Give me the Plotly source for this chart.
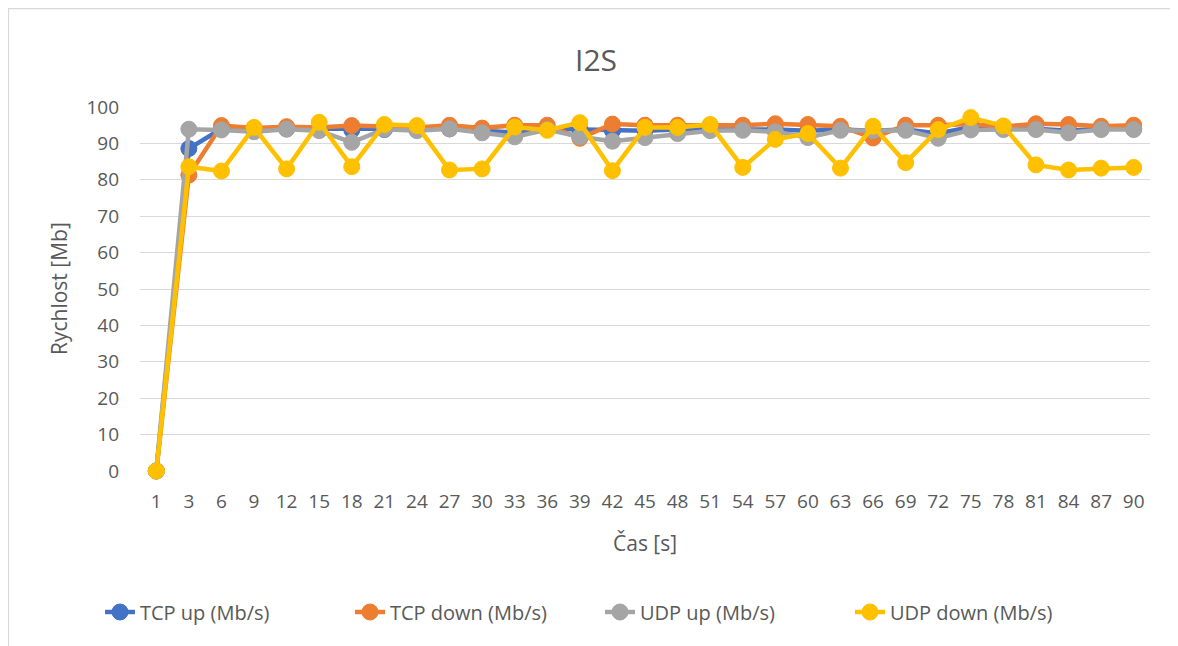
import plotly.graph_objects as go

# time categories (s)
cas = [1, 3, 6, 9, 12, 15, 18, 21, 24, 27, 30, 33, 36, 39, 42, 45,
       48, 51, 54, 57, 60, 63, 66, 69, 72, 75, 78, 81, 84, 87, 90]
cas_labels = [str(c) for c in cas]

tcp_up = [0, 88.6, 94.0, 93.8, 94.0, 94.0, 93.7, 93.8, 94.0, 94.0, 93.5,
          93.0, 94.0, 93.8, 93.5, 93.5, 93.8, 93.8, 94.0, 93.8, 93.5, 93.8,
          93.5, 93.8, 92.7, 94.5, 94.0, 94.0, 93.5, 94.0, 94.0]
tcp_down = [0, 81.3, 94.9, 94.2, 94.6, 94.4, 94.9, 94.6, 94.4, 95.0, 94.2,
            95.0, 95.0, 91.4, 95.3, 95.0, 95.0, 95.0, 95.0, 95.4, 95.2, 94.7,
            91.5, 95.0, 95.0, 95.3, 94.6, 95.4, 95.2, 94.7, 95.0]
udp_up = [0, 93.9, 93.7, 93.2, 93.9, 93.5, 90.3, 93.9, 93.5, 94.0, 92.9,
          91.8, 93.8, 91.8, 90.6, 91.6, 92.7, 93.5, 93.6, 93.2, 91.6, 93.6,
          93.5, 93.6, 91.4, 93.7, 93.8, 93.8, 92.9, 93.8, 93.8]
udp_down = [0, 83.6, 82.4, 94.4, 83.0, 95.8, 83.6, 95.2, 94.9, 82.7, 83.0,
            94.5, 93.6, 95.7, 82.5, 94.4, 94.4, 95.2, 83.4, 91.1, 92.7, 83.2,
            94.7, 84.7, 93.8, 97.1, 94.8, 84.1, 82.7, 83.2, 83.4]

series = [
    ("TCP up (Mb/s)", tcp_up, "#4472C4"),
    ("TCP down (Mb/s)", tcp_down, "#ED7D31"),
    ("UDP up (Mb/s)", udp_up, "#A5A5A5"),
    ("UDP down (Mb/s)", udp_down, "#FFC000"),
]

FONT = "Open Sans"
TEXT = "#595959"
GRID = "#D9D9D9"

# page body has an 8px margin, so the figure is sized to fit the window
W, H = 1170, 638
L, R, T, B = 132, 28, 99, 175
PW, PH = W - L - R, H - T - B

fig = go.Figure()
for name, vals, color in series:
    fig.add_trace(go.Scatter(
        x=cas_labels, y=vals, name=name, mode="lines+markers",
        line=dict(color=color, width=4.5),
        marker=dict(color=color, size=16, line=dict(color=color, width=1)),
        cliponaxis=False,
    ))

fig.update_layout(
    width=W, height=H,
    margin=dict(l=L, r=R, t=T, b=B),
    paper_bgcolor="white", plot_bgcolor="white",
    font=dict(family=FONT, color=TEXT, size=19),
    title=dict(text="I2S", x=588 / W, y=1 - 52 / H, xref="container",
               yref="container", xanchor="center", yanchor="middle",
               font=dict(size=30, color=TEXT, family=FONT)),
    showlegend=True,
    legend=dict(orientation="h", xref="container", yref="container",
                x=592 / W, y=1 - 604 / H, xanchor="center", yanchor="middle",
                font=dict(size=20, color=TEXT), entrywidth=205),
    xaxis=dict(type="category", range=[-0.5, 30.5], showgrid=False,
               showline=False, zeroline=False, ticks="",
               ticklabelstandoff=17, tickfont=dict(size=19, color=TEXT)),
    yaxis=dict(range=[0, 100], dtick=10, showgrid=True, gridcolor=GRID,
               gridwidth=1.3, zeroline=False, showline=False, ticks="",
               ticklabelstandoff=20, tickfont=dict(size=19, color=TEXT)),
    shapes=[dict(type="rect", xref="paper", yref="paper",
                 x0=(0.5 - L) / PW, x1=(W + 20 - L) / PW,
                 y0=(PH + T - H - 40) / PH, y1=(PH + T - 0.5) / PH,
                 line=dict(color=GRID, width=1.3), fillcolor="rgba(0,0,0,0)",
                 layer="below")],
    annotations=[
        dict(text="Čas [s]", xref="paper", yref="paper", x=0.5,
             y=(PH + T - 535) / PH, xanchor="center", yanchor="middle",
             showarrow=False, font=dict(size=21, color=TEXT)),
        dict(text="Rychlost [Mb]", xref="paper", yref="paper",
             x=(51 - L) / PW, y=0.5, xanchor="center", yanchor="middle",
             textangle=-90, showarrow=False, font=dict(size=21, color=TEXT)),
    ],
)

fig.write_html("out.html")
